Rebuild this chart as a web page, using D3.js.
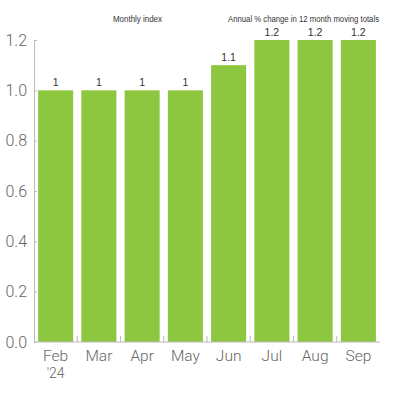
<!DOCTYPE html>
<html>
<head>
<meta charset="utf-8">
<script src="https://cdn.jsdelivr.net/npm/d3@7"></script>
<style>
  body { margin: 0; background: #fff; }
</style>
</head>
<body>
<svg id="chart" width="400" height="400"></svg>
<script>
var months = ["Feb", "Mar", "Apr", "May", "Jun", "Jul", "Aug", "Sep"];
var values = [1, 1, 1, 1, 1.1, 1.2, 1.2, 1.2];
var yTicks = [0, 0.2, 0.4, 0.6, 0.8, 1.0, 1.2];

var margin = {top: 40, right: 20, bottom: 58, left: 34},
    width = 400 - margin.left - margin.right,
    height = 400 - margin.top - margin.bottom;

var svg = d3.select("#chart");
var g = svg.append("g")
    .attr("transform", "translate(" + margin.left + "," + margin.top + ")");

var x = d3.scaleBand()
    .domain(months)
    .range([0, width])
    .paddingInner(0.19)
    .paddingOuter(0.095);

var y = d3.scaleLinear()
    .domain([0, 1.2])
    .range([height, 0]);

// bars
g.selectAll("rect.bar")
    .data(values)
    .enter().append("rect")
    .attr("class", "bar")
    .attr("x", function (d, i) { return x(months[i]); })
    .attr("y", function (d) { return y(d); })
    .attr("width", x.bandwidth())
    .attr("height", function (d) { return height - y(d); })
    .style("fill", "#8dc63f");

// value labels
g.selectAll("text.val")
    .data(values)
    .enter().append("text")
    .attr("class", "val")
    .attr("x", function (d, i) { return x(months[i]) + x.bandwidth() / 2; })
    .attr("y", function (d) { return y(d) - 4; })
    .attr("text-anchor", "middle")
    .style("font-family", "'Liberation Sans', sans-serif")
    .style("font-size", "10.5px")
    .style("fill", "#333")
    .text(function (d) { return d; });

// y axis
var yAxis = g.append("g")
    .call(d3.axisLeft(y).tickValues(yTicks).tickSize(-3).tickPadding(7)
        .tickFormat(d3.format(".1f")));
yAxis.select(".domain").attr("stroke", "#bbb");
yAxis.selectAll(".tick line").attr("stroke", "#bbb");
yAxis.selectAll(".tick text")
    .style("font-family", "Roboto, sans-serif")
    .style("font-weight", "300")
    .style("font-size", "16px")
    .style("fill", "#666");

// x axis
var xAxis = g.append("g")
    .attr("transform", "translate(0," + height + ")")
    .call(d3.axisBottom(x).tickSize(0).tickPadding(0));
xAxis.select(".domain").attr("stroke", "#bbb").attr("d", "M0,0H" + width);
xAxis.selectAll(".tick text").remove();
xAxis.selectAll(".tick").append("text")
    .attr("y", 19)
    .attr("text-anchor", "middle")
    .style("font-family", "Roboto, sans-serif")
    .style("font-weight", "300")
    .style("font-size", "15.5px")
    .style("fill", "#666")
    .text(function (d) { return d; });
xAxis.select(".tick").append("text")
    .attr("y", 36)
    .attr("text-anchor", "middle")
    .style("font-family", "Roboto, sans-serif")
    .style("font-weight", "300")
    .style("font-size", "14px")
    .style("fill", "#666")
    .text("'24");

// small separators between bars
g.selectAll("line.sep")
    .data(months.slice(1))
    .enter().append("line")
    .attr("class", "sep")
    .attr("x1", function (d) { return x(d) - x.step() * x.paddingInner() / 2; })
    .attr("x2", function (d) { return x(d) - x.step() * x.paddingInner() / 2; })
    .attr("y1", height)
    .attr("y2", height - 6)
    .attr("stroke", "#bbb");

// headers
svg.append("text")
    .attr("x", 113)
    .attr("y", 22)
    .attr("textLength", 49)
    .attr("lengthAdjust", "spacingAndGlyphs")
    .style("font-family", "'Liberation Sans', sans-serif")
    .style("font-size", "8.5px")
    .style("fill", "#333")
    .text("Monthly index");

svg.append("text")
    .attr("x", 228)
    .attr("y", 22)
    .attr("textLength", 151)
    .attr("lengthAdjust", "spacingAndGlyphs")
    .style("font-family", "'Liberation Sans', sans-serif")
    .style("font-size", "8.5px")
    .style("fill", "#333")
    .text("Annual % change in 12 month moving totals");
</script>
</body>
</html>
